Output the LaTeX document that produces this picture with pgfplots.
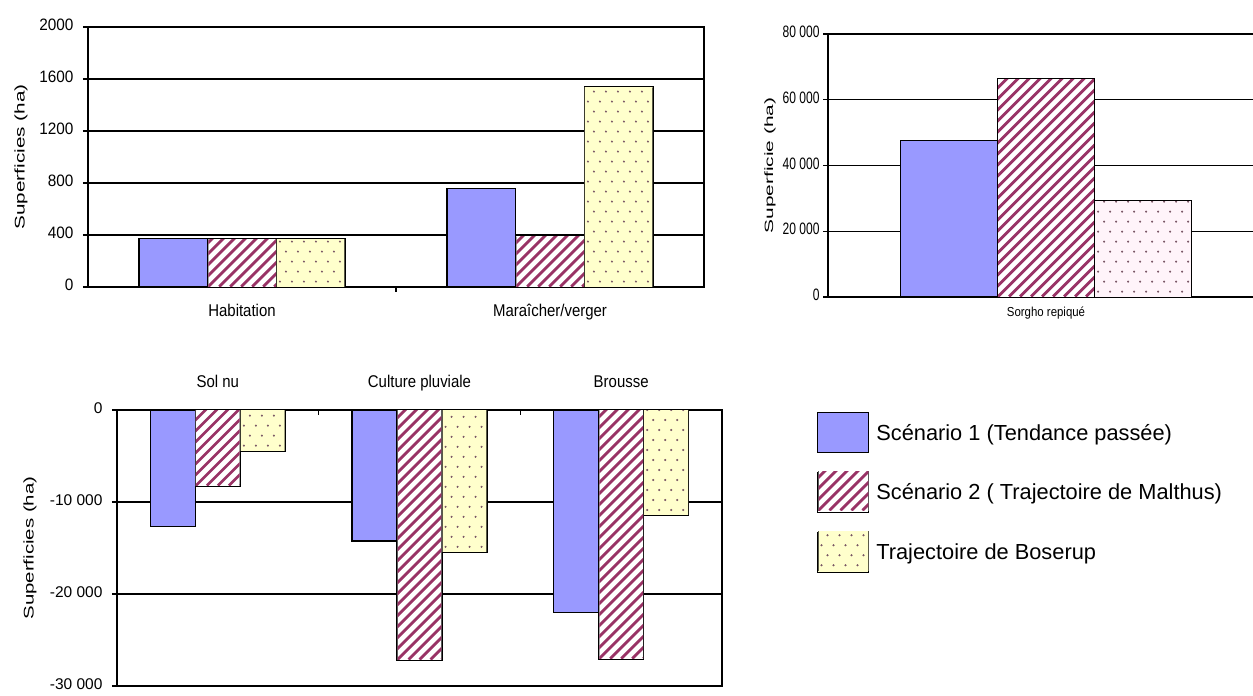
\documentclass[border=0pt]{standalone}
\usepackage{pgfplots}
\pgfplotsset{compat=1.18}
\usepackage{graphicx}
\usepackage{fontspec}
\setmainfont{Liberation Sans}
\newfontfamily\tickA[FakeStretch=0.93]{Liberation Sans}
\newfontfamily\tickB[FakeStretch=0.73]{Liberation Sans}
\newfontfamily\catf[FakeStretch=0.88]{Liberation Sans}
\definecolor{sA}{HTML}{9999FF}
\definecolor{sB}{HTML}{993366}
\definecolor{sC}{HTML}{FFFFCC}
\definecolor{sD}{HTML}{FFF4FA}
\definecolor{dotc}{RGB}{120,85,100}
% hatch / dot textures, drawn inside a box of given size (bp)
\newcommand\stripesbox[2]{%
  \begin{tikzpicture}[x=1bp,y=1bp]
    \useasboundingbox (0,0) rectangle (#1,#2);
    \clip (0,0) rectangle (#1,#2);
    \fill[white] (-1,-1) rectangle (#1+1,#2+1);
    \foreach \k in {-25,...,10}{\draw[sB, line width=2.8bp] (\k*11,0) -- ++(300,300);}
  \end{tikzpicture}}
\newcommand\dotsbox[3]{%
  \begin{tikzpicture}[x=1bp,y=1bp]
    \useasboundingbox (0,0) rectangle (#1,#2);
    \clip (0,0) rectangle (#1,#2);
    \fill[#3] (-1,-1) rectangle (#1+1,#2+1);
    \foreach \j in {0,2,...,26}{\foreach \i in {0,...,8}{%
      \fill[dotc] (\i*12+3,\j*10+5) circle (0.8);
      \fill[dotc] (\i*12+9,\j*10+15) circle (0.8);}}
  \end{tikzpicture}}
\pgfplotsset{
  common/.style={scale only axis, ybar=0pt, bar width=0.223, clip=false,
    scaled y ticks=false,
    axis line style={black, line width=1.2bp},
    ymajorgrids, grid style={black, line width=1.2bp},
    tick style={black, line width=1.2bp},
    major tick length=5bp, minor tick length=5bp, tick align=outside,
    major x tick style={draw=none},
    ytick pos=left,
    typeset ticklabels with strut,
    legend image code/.code={\draw[##1] (0bp,-20bp) rectangle (51bp,20bp);},
  },
  bA/.style={fill=sA, draw=black, line width=1.2bp},
  bB/.style={fill=white, draw=black, line width=1.2bp,
    legend image code/.code={\draw[fill=white,draw=black,line width=1.2bp] (0bp,-20bp) rectangle (51bp,20bp);
      \node[inner sep=0pt,outer sep=0pt,anchor=south west] at (0.6bp,-19.4bp) {\stripesbox{49.8}{38.8}};}},
  bC/.style={fill=sC, draw=black, line width=1.2bp,
    legend image code/.code={\draw[fill=sC,draw=black,line width=1.2bp] (0bp,-20bp) rectangle (51bp,20bp);
      \node[inner sep=0pt,outer sep=0pt,anchor=south west] at (0.6bp,-19.4bp) {\dotsbox{49.8}{38.8}{sC}};}},
  bD/.style={fill=sD, draw=black, line width=1.2bp},
  texpos/.style={point meta=explicit symbolic, nodes near coords align={below},
    every node near coord/.append style={inner sep=0pt, outer sep=0pt, yshift=-0.6bp}},
  texneg/.style={point meta=explicit symbolic, nodes near coords align={above},
    every node near coord/.append style={inner sep=0pt, outer sep=0pt, yshift=0.6bp}},
}
\begin{document}
\begin{tikzpicture}
% top-left
\begin{axis}[common, at={(88bp,409bp)}, anchor=south west, width=616bp, height=260bp,
  xmin=-0.5, xmax=1.5, ymin=0, ymax=2000,
  ytick={0,400,800,1200,1600,2000}, yticklabels={0,400,800,1200,1600,2000},
  xtick={0,1}, xticklabels={Habitation,Maraîcher/verger}, minor xtick={0.5},
  xtick pos=lower,
  yticklabel style={font=\tickA\fontsize{16.5bp}{18bp}\selectfont, xshift=-6bp},
  xticklabel style={font=\catf\fontsize{17bp}{19bp}\selectfont, yshift=-8bp},
  ylabel={\fontsize{14bp}{16bp}\selectfont\scalebox{1.48}[1]{Superficies (ha)}},
  ylabel style={at={(axis description cs:-0.1088,0.5)}, anchor=center},
]
\addplot[bA] coordinates {(0,370) (1,755)};
\addplot[bB, texpos, nodes near coords={\stripesbox{67.5}{\pgfplotspointmeta}}]
  coordinates {(0,370) [46.9] (1,392) [49.8]};
\addplot[bC, texpos, nodes near coords={\dotsbox{67.5}{\pgfplotspointmeta}{sC}}]
  coordinates {(0,370) [46.9] (1,1538) [198.7]};
\end{axis}
% top-right
\begin{axis}[common, at={(828bp,399bp)}, anchor=south west, width=425bp, height=263bp,
  xmin=-0.5, xmax=0.4748, ymin=0, ymax=80000, bar width=0.2225,
  axis x line*=bottom, axis y line*=left,
  ytick={0,20000,40000,60000,80000}, yticklabels={0,20 000,40 000,60 000,80 000},
  xtick={0}, xticklabels={Sorgho repiqué},
  yticklabel style={font=\tickB\fontsize{16.5bp}{18bp}\selectfont},
  xticklabel style={font=\catf\fontsize{13bp}{15bp}\selectfont},
  ylabel={\fontsize{12bp}{14bp}\selectfont\scalebox{1.74}[1]{Superficie (ha)}},
  ylabel style={at={(axis description cs:-0.1365,0.5)}, anchor=center},
]
\addplot[bA] coordinates {(0,47500)};
\addplot[bB, texpos, nodes near coords={\stripesbox{95.8}{\pgfplotspointmeta}}]
  coordinates {(0,66500) [217.4]};
\addplot[bD, texpos, nodes near coords={\dotsbox{95.8}{\pgfplotspointmeta}{sD}}]
  coordinates {(0,29200) [94.8]};
\end{axis}
% bottom
\begin{axis}[common, at={(117bp,10bp)}, anchor=south west, width=605bp, height=276bp,
  xmin=-0.5, xmax=2.5, ymin=-30000, ymax=0,
  ytick={-30000,-20000,-10000,0}, yticklabels={-30 000,-20 000,-10 000,0},
  xtick={0,1,2}, xticklabels={Sol nu,Culture pluviale,Brousse}, minor xtick={0.5,1.5},
  xticklabel pos=upper, xtick pos=upper,
  minor x tick style={yshift=-5bp},
  yticklabel style={font=\fontsize{15.5bp}{17bp}\selectfont, xshift=-6bp},
  xticklabel style={font=\catf\fontsize{17bp}{19bp}\selectfont, yshift=8bp},
  ylabel={\fontsize{14bp}{16bp}\selectfont\scalebox{1.46}[1]{Superficies (ha)}},
  ylabel style={at={(axis description cs:-0.1438,0.5)}, anchor=center},
  legend style={at={(axis description cs:1.152,1.0)}, anchor=north west, draw=none, fill=none,
    row sep=18bp, font=\fontsize{21.8bp}{24bp}\selectfont, legend cell align=left,
    /tikz/every odd column/.append style={column sep=5bp}},
]
\addplot[bA] coordinates {(0,-12700) (1,-14250) (2,-22000)};
\addplot[bB, texneg, nodes near coords={\stripesbox{43.8}{\pgfplotspointmeta}}]
  coordinates {(0,-8300) [75.2] (1,-27200) [249.0] (2,-27100) [248.1]};
\addplot[bC, texneg, nodes near coords={\dotsbox{43.8}{\pgfplotspointmeta}{sC}}]
  coordinates {(0,-4500) [40.2] (1,-15500) [141.4] (2,-11500) [104.6]};
\legend{Scénario 1 (Tendance passée),Scénario 2 ( Trajectoire de Malthus),Trajectoire de Boserup}
\end{axis}
\pgfresetboundingbox
\path (0bp,0bp) rectangle (1253bp,696bp);
\end{tikzpicture}
\end{document}
